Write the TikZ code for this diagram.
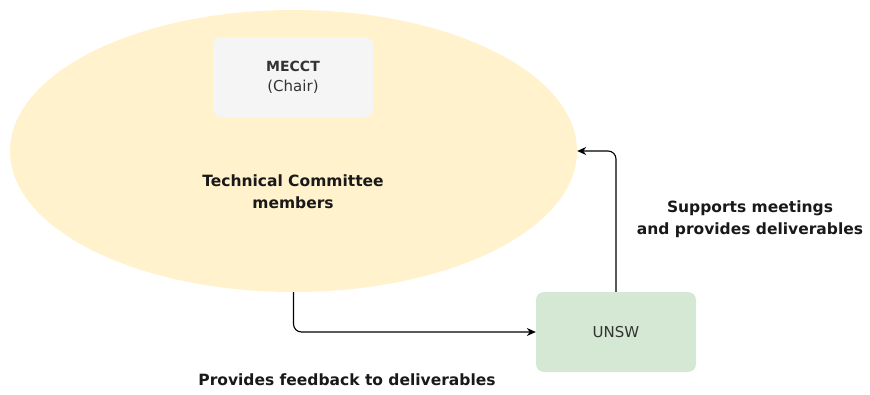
\documentclass[tikz,border=0pt]{standalone}
\usepackage{fontspec}
\setmainfont{DejaVu Sans}
\usetikzlibrary{shapes.geometric,arrows.meta}
\definecolor{tcyellow}{HTML}{FFF2CC}
\definecolor{chairgrey}{HTML}{F5F5F5}
\definecolor{unswgreen}{HTML}{D5E8D4}
\definecolor{txtgrey}{HTML}{333333}
\tikzset{
committee/.style={
	  ellipse, fill=tcyellow, inner sep=0pt,
	    minimum width=567pt, minimum height=282pt},
roundbox/.style={
	  rounded corners=8pt, minimum width=160pt, minimum height=80pt,
	    inner sep=0pt, align=center, text=txtgrey, font=\fontsize{15}{20}\selectfont},
flowlabel/.style={
	  font=\bfseries\fontsize{15.5}{22}\selectfont, align=center, text=black!90},
flow/.style={
	  draw, line width=1.1pt, rounded corners=8pt, -{Stealth[length=9pt,width=8pt]}}
}

\begin{document}
\begin{tikzpicture}[x=1pt, y=-1pt]
	\useasboundingbox (0,0) rectangle (870,394);
	\node[committee] (tc) at (293.5,151) {};
	\node[roundbox, fill=chairgrey] (chair) at (293,77)
		{{\bfseries\fontsize{14}{20}\selectfont MECCT}\\(Chair)};
	\node[flowlabel] (tclabel) at (293,192) {Technical Committee\\members};
	\node[roundbox, fill=unswgreen] (unsw) at (616,332) {UNSW};
	\node[flowlabel] (support) at (750,219) {Supports meetings\\and provides deliverables};
	\node[flowlabel] (feedback) at (347,380) {Provides feedback to deliverables};
	\draw[flow] (tc.south) |- (unsw.west);
	\draw[flow] (unsw.north) |- (tc.east);
\end{tikzpicture}
\end{document}
